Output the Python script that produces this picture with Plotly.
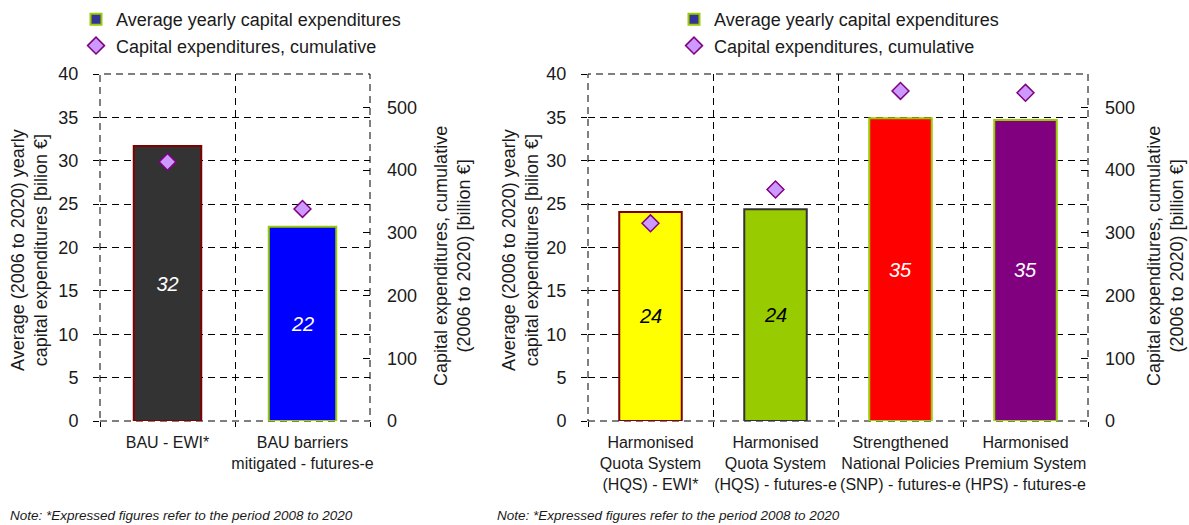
import plotly.graph_objects as go

# ---- data -------------------------------------------------------------
left_categories = ["BAU - EWI*", "BAU barriers<br>mitigated - futures-e"]
left_yearly = [31.7, 22.4]            # billion EUR per year
left_cumulative = [413, 338]          # billion EUR, cumulative

right_categories = [
    "Harmonised<br>Quota System<br>(HQS) - EWI*",
    "Harmonised<br>Quota System<br>(HQS) - futures-e",
    "Strengthened<br>National Policies<br>(SNP) - futures-e",
    "Harmonised<br>Premium System<br>(HPS) - futures-e",
]
right_yearly = [24.1, 24.4, 34.9, 34.7]
right_cumulative = [315, 369, 526, 523]

left_fill = ["#333333", "#0000FF"]
left_edge = ["#800000", "#99CC00"]
left_text = ["white", "white"]
right_fill = ["#FFFF00", "#99CC00", "#FF0000", "#800080"]
right_edge = ["#800000", "#333333", "#99CC00", "#99CC00"]
right_text = ["black", "black", "white", "white"]

yearly_ticks = list(range(0, 41, 5))
cumulative_ticks = list(range(0, 501, 100))
YEARLY_MAX = 40
CUM_MAX = 553

FONT = "Liberation Sans, Arial, sans-serif"
DASH = "7px,5px"
W, H = 1189, 525

PLOT_TOP, PLOT_BOTTOM = 74, 421
LEFT_X0, LEFT_X1 = 100, 370
RIGHT_X0, RIGHT_X1 = 588, 1088

ydom = [1 - PLOT_BOTTOM / H, 1 - PLOT_TOP / H]

fig = go.Figure()


def add_panel(cats, yearly, cumul, fill, edge, tcol, xa, ya, ya2, legend):
    idx = list(range(len(cats)))
    # legend entry for the bars
    fig.add_trace(go.Scatter(
        x=[None], y=[None], mode="markers", name="Average yearly capital expenditures",
        marker=dict(symbol="square", size=11, color="#333399",
                    line=dict(color="#99CC00", width=2)),
        xaxis=xa, yaxis=ya, legend=legend, showlegend=True,
    ))
    fig.add_trace(go.Bar(
        x=idx, y=yearly, width=0.5,
        marker=dict(color=fill, line=dict(color=edge, width=2)),
        texttemplate="%{y:.0f}", textposition="inside", insidetextanchor="middle",
        textfont=dict(family=FONT, size=20, color=tcol, style="italic"),
        xaxis=xa, yaxis=ya, showlegend=False,
    ))
    fig.add_trace(go.Scatter(
        x=idx, y=cumul, mode="markers", name="Capital expenditures, cumulative",
        marker=dict(symbol="diamond", size=13, color="#CC99FF",
                    line=dict(color="#800080", width=1.5)),
        xaxis=xa, yaxis=ya2, legend=legend, showlegend=True,
    ))


add_panel(left_categories, left_yearly, left_cumulative, left_fill, left_edge,
          left_text, "x", "y", "y2", "legend")
add_panel(right_categories, right_yearly, right_cumulative, right_fill, right_edge,
          right_text, "x2", "y3", "y4", "legend2")


def xaxis_cfg(cats, x0, x1):
    n = len(cats)
    return dict(
        domain=[x0 / W, x1 / W], range=[-0.5, n - 0.5], automargin=False,
        tickmode="array", tickvals=list(range(n)), ticktext=cats,
        ticks="", showgrid=False, zeroline=False, showline=False,
        tickfont=dict(family=FONT, size=16, color="#1a1a1a"),
        ticklabelstandoff=10,
        minor=dict(tick0=0.5, dtick=1, showgrid=True, griddash=DASH,
                   gridcolor="black", gridwidth=1, ticks="outside",
                   ticklen=5, tickcolor="black"),
        fixedrange=True,
    )


def yaxis_cfg(anchor):
    return dict(
        domain=ydom, anchor=anchor, range=[0, YEARLY_MAX], automargin=False,
        tickmode="array", tickvals=yearly_ticks,
        showgrid=True, griddash=DASH, gridcolor="black", gridwidth=1,
        zeroline=False, showline=False,
        ticks="outside", ticklen=6, tickcolor="black",
        tickfont=dict(family=FONT, size=18, color="#1a1a1a"),
        ticklabelstandoff=11,
    )


def yaxis_right_cfg(anchor, over):
    return dict(
        domain=ydom, anchor=anchor, overlaying=over, side="right",
        range=[0, CUM_MAX], automargin=False,
        tickmode="array", tickvals=cumulative_ticks,
        showgrid=False, zeroline=False, showline=False,
        ticks="inside", ticklen=7, tickcolor="black",
        tickfont=dict(family=FONT, size=18, color="#1a1a1a"),
        ticklabelstandoff=16,
    )


fig.update_layout(
    width=W, height=H,
    margin=dict(l=0, r=0, t=0, b=0, autoexpand=False),
    paper_bgcolor="white", plot_bgcolor="white",
    font=dict(family=FONT, size=16, color="#1a1a1a"),
    bargap=0.5,
    xaxis=xaxis_cfg(left_categories, LEFT_X0, LEFT_X1),
    xaxis2=xaxis_cfg(right_categories, RIGHT_X0, RIGHT_X1),
    yaxis=yaxis_cfg("x"),
    yaxis2=yaxis_right_cfg("x", "y"),
    yaxis3=yaxis_cfg("x2"),
    yaxis4=yaxis_right_cfg("x2", "y3"),
    legend=dict(x=76 / W, y=1 - 1 / H, xanchor="left", yanchor="top",
                font=dict(family=FONT, size=18, color="#1a1a1a"),
                bgcolor="rgba(0,0,0,0)", tracegroupgap=0, itemwidth=30),
    legend2=dict(x=674 / W, y=1 - 1 / H, xanchor="left", yanchor="top",
                 font=dict(family=FONT, size=18, color="#1a1a1a"),
                 bgcolor="rgba(0,0,0,0)", tracegroupgap=0, itemwidth=30),
)

# dashed frame around each plot area
for xr, yr in (("x", "y"), ("x2", "y3")):
    fig.add_shape(type="rect", xref=f"{xr} domain", yref=f"{yr} domain",
                  x0=0, x1=1, y0=0, y1=1, layer="below",
                  line=dict(color="black", width=1, dash=DASH))

# axis titles
title_font = dict(family=FONT, size=18, color="#1a1a1a")
yc_left = 1 - 250 / H
yc_right = 1 - 256 / H
titles = [
    (29, yc_left, "Average (2006 to 2020) yearly<br>capital expenditures [bilion €]"),
    (452, yc_right, "Capital expenditures, cumulative<br>(2006 to 2020) [billion €]"),
    (520, yc_left, "Average (2006 to 2020) yearly<br>capital expenditures [bilion €]"),
    (1165, yc_right, "Capital expenditures, cumulative<br>(2006 to 2020) [billion €]"),
]
for px, py, txt in titles:
    fig.add_annotation(x=px / W, y=py, xref="paper", yref="paper", text=txt,
                       textangle=-90, showarrow=False, font=title_font,
                       xanchor="center", yanchor="middle")

# footnotes
note = "Note: *Expressed figures refer to the period 2008 to 2020"
for px, py in ((8, 515), (495, 515)):
    fig.add_annotation(x=px / W, y=1 - py / H, xref="paper", yref="paper",
                       text=f"<i>{note}</i>", showarrow=False,
                       font=dict(family=FONT, size=13.5, color="#1a1a1a"),
                       xanchor="left", yanchor="middle")

fig.write_html("out.html")
